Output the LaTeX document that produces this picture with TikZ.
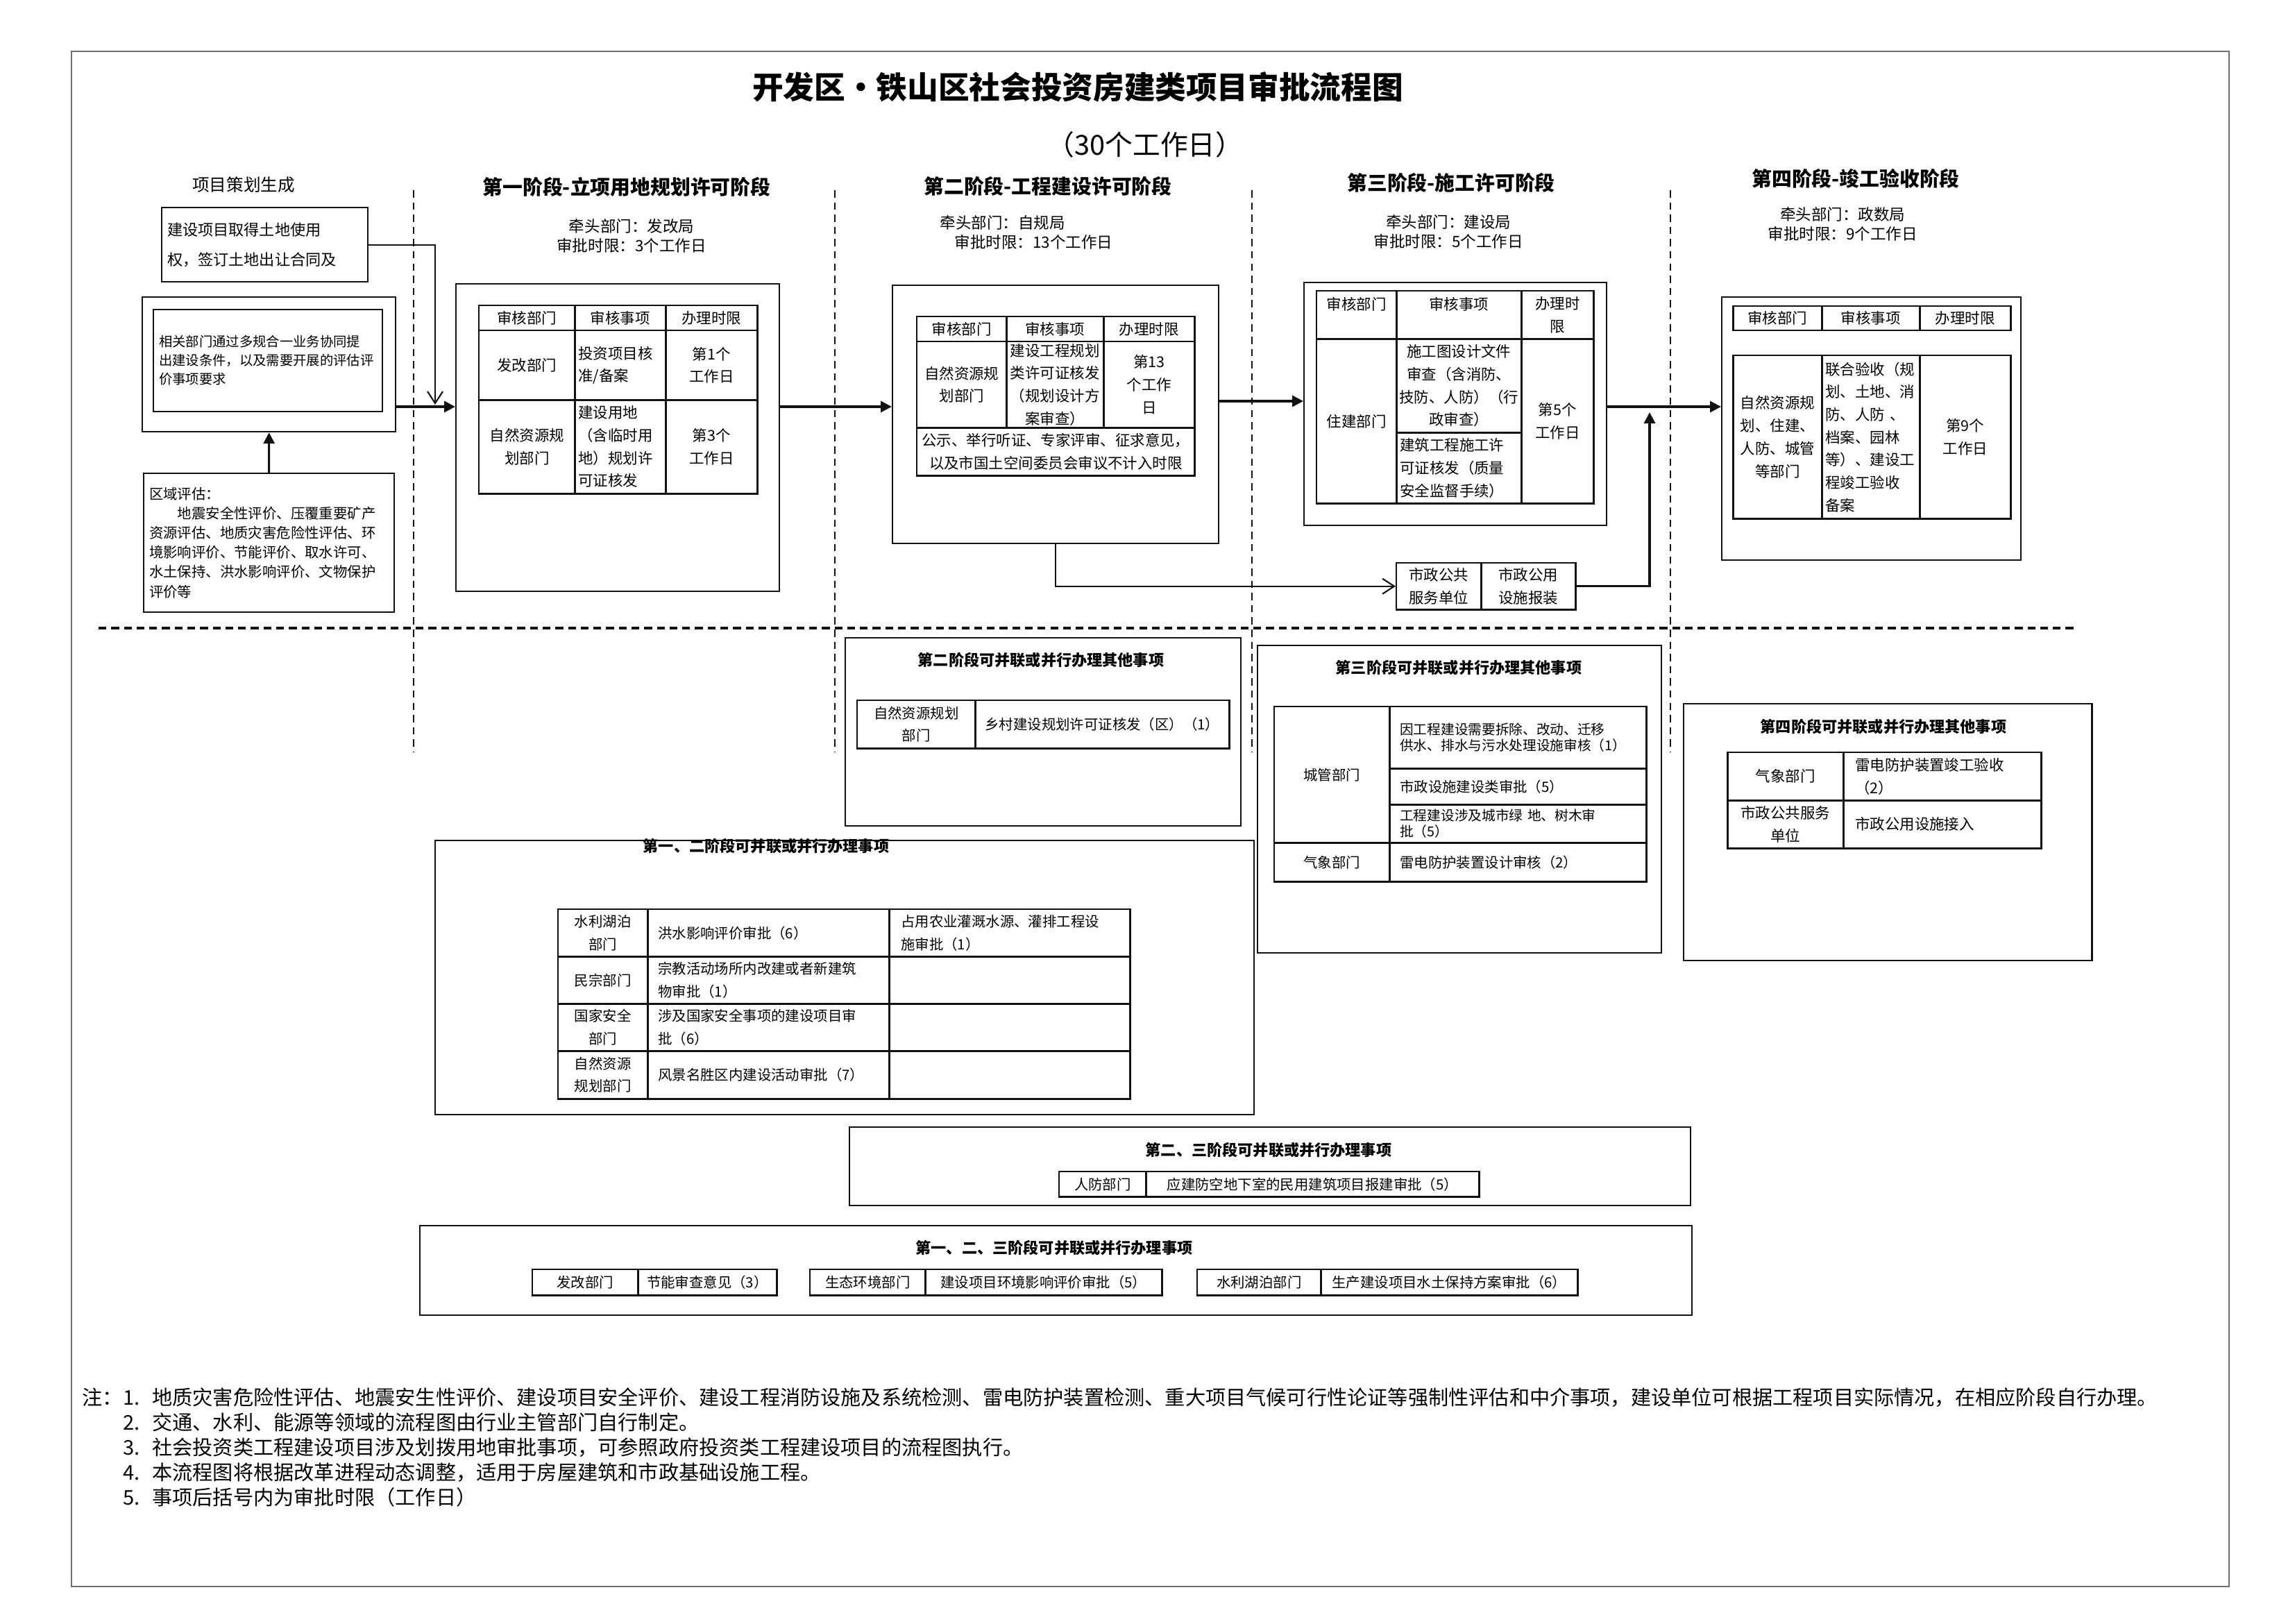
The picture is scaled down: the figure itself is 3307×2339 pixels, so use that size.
\documentclass[tikz,border=0pt]{standalone}
\usepackage{fontspec}
\setmainfont{Noto Sans CJK SC}
\usepackage{xcolor}
\definecolor{inkDark}{HTML}{111111}
\definecolor{frameGray}{HTML}{6E6E6E}
\usepackage{tikz}
\usetikzlibrary{positioning,calc,arrows.meta}
\tikzset{%
  plainBox/.style={%
    rectangle,
    draw=inkDark,
    line width=0.6pt,
    inner sep=0pt,
    anchor=north west
  },
  textBox/.style={%
    plainBox,
    align=left,
    inner xsep=0.08cm
  },
  cellBox/.style={%
    rectangle,
    draw=inkDark,
    line width=0.7pt,
    inner sep=0pt,
    anchor=north west,
    align=center,
    font=\fontsize{6.1pt}{9.3pt}\selectfont
  },
  leftCell/.style={%
    cellBox,
    align=left,
    inner xsep=0.05cm
  },
  parCell/.style={%
    cellBox,
    font=\fontsize{5.8pt}{9.3pt}\selectfont
  },
  parLeftCell/.style={%
    leftCell,
    inner xsep=0.15cm,
    font=\fontsize{5.8pt}{9.3pt}\selectfont
  },
  titleText/.style={font=\bfseries\fontsize{12.7pt}{15pt}\selectfont, inner sep=0pt},
  subTitleText/.style={font=\fontsize{11.3pt}{13pt}\selectfont, inner sep=0pt},
  stageTitle/.style={font=\bfseries\fontsize{8.2pt}{10pt}\selectfont, inner sep=0pt},
  leadText/.style={font=\fontsize{6.4pt}{7.9pt}\selectfont, align=center, inner sep=0pt},
  parTitle/.style={font=\bfseries\fontsize{6.3pt}{8pt}\selectfont, inner sep=0pt},
  noteText/.style={font=\fontsize{8.3pt}{10.2pt}\selectfont, inner sep=0pt, anchor=north west},
  arrowLine/.style={%
    -{Triangle[length=1.6mm,width=1.6mm]},
    line width=0.9pt,
    color=inkDark
  },
  openArrow/.style={%
    -{Straight Barb[length=1.7mm,width=2.2mm]},
    line width=0.6pt,
    color=inkDark
  },
  stageDivider/.style={dash pattern=on 3pt off 2pt, line width=0.5pt, color=inkDark},
  phaseDivider/.style={dash pattern=on 3.2pt off 2pt, line width=0.9pt, color=inkDark},
  frameLine/.style={line width=0.5pt, draw=frameGray}
}

\begin{document}
\begin{tikzpicture}[x=0.01cm, y=-0.01cm]
  \useasboundingbox (0,0) rectangle (3307,2339);
  \draw[frameLine] (103,74) rectangle (3212,2286);

  % titles
  \node[titleText] (mainTitle) at (1553,125) {开发区・铁山区社会投资房建类项目审批流程图};
  \node[subTitleText] (totalDays) at (1650,208) {（30个工作日）};
  \node[font=\fontsize{7pt}{9pt}\selectfont, inner sep=0pt] (prepTitle) at (351,266) {项目策划生成};
  \node[stageTitle] (stageOneTitle) at (903,269) {第一阶段-立项用地规划许可阶段};
  \node[stageTitle] (stageTwoTitle) at (1510,268) {第二阶段-工程建设许可阶段};
  \node[stageTitle] (stageThreeTitle) at (2091,263) {第三阶段-施工许可阶段};
  \node[stageTitle] (stageFourTitle) at (2674,257) {第四阶段-竣工验收阶段};

  \node[leadText] (stageOneLead) at (910,340) {牵头部门：发改局\\审批时限：3个工作日};
  \node[leadText, align=left, anchor=west] (stageTwoLead) at (1354,335) {牵头部门：自规局\\\hspace*{0.21cm}审批时限：13个工作日};
  \node[leadText] (stageThreeLead) at (2087,334) {牵头部门：建设局\\审批时限：5个工作日};
  \node[leadText] (stageFourLead) at (2655,323) {牵头部门：政数局\\审批时限：9个工作日};

  % dividers
  \foreach \xPos in {596,1203,1804,2407} {
    \draw[stageDivider] (\xPos,274) -- (\xPos,1083);
  }
  \draw[phaseDivider] (142,905) -- (2990,905);

  % project planning
  \node[textBox, text width=2.81cm, minimum height=1.07cm, font=\fontsize{6.3pt}{12.2pt}\selectfont] (landBox) at (232,298) {建设项目取得土地使用\\权，签订土地出让合同及};
  \node[plainBox, minimum width=3.65cm, minimum height=1.94cm] (condOuter) at (204,427) {};
  \node[textBox, text width=3.14cm, minimum height=1.47cm, font=\fontsize{5.5pt}{7.7pt}\selectfont] (condInner) at (220,445) {相关部门通过多规合一业务协同提\\出建设条件，以及需要开展的评估评\\价事项要求};
  \node[textBox, text width=3.45cm, minimum height=2.00cm, font=\fontsize{5.8pt}{8pt}\selectfont] (regionBox) at (206,681) {区域评估：\\\hspace*{2em}地震安全性评价、压覆重要矿产\\资源评估、地质灾害危险性评估、环\\境影响评价、节能评价、取水许可、\\水土保持、洪水影响评价、文物保护\\评价等};

  % stage one
  \node[plainBox, minimum width=4.66cm, minimum height=4.43cm] (stageOneBox) at (656,408) {};
  \node[cellBox, minimum width=1.38cm, minimum height=0.36cm] (s1HeadDept) at (689,439) {审核部门};
  \node[cellBox, minimum width=1.31cm, minimum height=0.36cm] (s1HeadItem) at (827,439) {审核事项};
  \node[cellBox, minimum width=1.32cm, minimum height=0.36cm] (s1HeadTime) at (958,439) {办理时限};
  \node[cellBox, minimum width=1.38cm, minimum height=1.00cm] (s1DeptA) at (689,475) {发改部门};
  \node[leftCell, text width=1.21cm, minimum height=1.00cm] (s1ItemA) at (827,475) {投资项目核\\准/备案};
  \node[cellBox, minimum width=1.32cm, minimum height=1.00cm] (s1TimeA) at (958,475) {第1个\\工作日};
  \node[cellBox, minimum width=1.38cm, minimum height=1.35cm] (s1DeptB) at (689,575) {自然资源规\\划部门};
  \node[leftCell, text width=1.21cm, minimum height=1.35cm] (s1ItemB) at (827,575) {建设用地\\（含临时用\\地）规划许\\可证核发};
  \node[cellBox, minimum width=1.32cm, minimum height=1.35cm] (s1TimeB) at (958,575) {第3个\\工作日};

  % stage two
  \node[plainBox, minimum width=4.70cm, minimum height=3.72cm] (stageTwoBox) at (1285,410) {};
  \node[cellBox, minimum width=1.29cm, minimum height=0.36cm] (s2HeadDept) at (1320,455) {审核部门};
  \node[cellBox, minimum width=1.40cm, minimum height=0.36cm] (s2HeadItem) at (1449,455) {审核事项};
  \node[cellBox, minimum width=1.31cm, minimum height=0.36cm] (s2HeadTime) at (1589,455) {办理时限};
  \node[cellBox, minimum width=1.29cm, minimum height=1.24cm] (s2Dept) at (1320,491) {自然资源规\\划部门};
  \node[cellBox, minimum width=1.40cm, minimum height=1.24cm] (s2Item) at (1449,491) {建设工程规划\\类许可证核发\\（规划设计方\\案审查）};
  \node[cellBox, minimum width=1.31cm, minimum height=1.24cm] (s2Time) at (1589,491) {第13\\个工作\\日};
  \node[cellBox, minimum width=4.00cm, minimum height=0.69cm] (s2Note) at (1320,615) {公示、举行听证、专家评审、征求意见，\\以及市国土空间委员会审议不计入时限};

  % stage three
  \node[plainBox, minimum width=4.36cm, minimum height=3.50cm] (stageThreeBox) at (1878,406) {};
  \node[cellBox, minimum width=1.15cm, minimum height=0.69cm] (s3HeadDept) at (1896,418) {审核部门\\\mbox{}};
  \node[cellBox, minimum width=1.80cm, minimum height=0.69cm] (s3HeadItem) at (2011,418) {审核事项\\\mbox{}};
  \node[cellBox, minimum width=1.04cm, minimum height=0.69cm] (s3HeadTime) at (2191,418) {办理时\\限};
  \node[cellBox, minimum width=1.15cm, minimum height=2.37cm] (s3Dept) at (1896,487) {住建部门};
  \node[cellBox, minimum width=1.80cm, minimum height=1.35cm] (s3ItemA) at (2011,487) {施工图设计文件\\审查（含消防、\\技防、人防）（行\\政审查）};
  \node[leftCell, text width=1.70cm, minimum height=1.02cm] (s3ItemB) at (2011,622) {建筑工程施工许\\可证核发（质量\\安全监督手续）};
  \node[cellBox, minimum width=1.04cm, minimum height=2.37cm] (s3Time) at (2191,487) {第5个\\工作日};

  % stage four
  \node[plainBox, minimum width=4.31cm, minimum height=3.79cm] (stageFourBox) at (2480,427) {};
  \node[cellBox, minimum width=1.28cm, minimum height=0.35cm] (s4HeadDept) at (2496,440) {审核部门};
  \node[cellBox, minimum width=1.41cm, minimum height=0.35cm] (s4HeadItem) at (2624,440) {审核事项};
  \node[cellBox, minimum width=1.31cm, minimum height=0.35cm] (s4HeadTime) at (2765,440) {办理时限};
  \node[cellBox, minimum width=1.28cm, minimum height=2.35cm] (s4Dept) at (2496,511) {自然资源规\\划、住建、\\人防、城管\\等部门};
  \node[leftCell, text width=1.31cm, minimum height=2.35cm] (s4Item) at (2624,511) {联合验收（规\\划、土地、消\\防、人防 、\\档案、园林\\等）、建设工\\程竣工验收\\备案};
  \node[cellBox, minimum width=1.31cm, minimum height=2.35cm] (s4Time) at (2765,511) {第9个\\工作日};

  % municipal utilities
  \node[cellBox, minimum width=1.22cm, minimum height=0.67cm] (muniA) at (2011,810) {市政公共\\服务单位};
  \node[cellBox, minimum width=1.36cm, minimum height=0.67cm] (muniB) at (2133,810) {市政公用\\设施报装};

  % connectors
  \coordinate (flowLine) at (0,586);
  \coordinate (flowLineB) at (0,578);
  \coordinate (landDrop) at (627,583);
  \coordinate (muniRise) at (2377,594);
  \draw[openArrow] (landBox.east) -| (landDrop);
  \draw[arrowLine] (regionBox.north) -- (condOuter.south);
  \draw[arrowLine] (condOuter.east |- flowLine) -- (stageOneBox.west |- flowLine);
  \draw[arrowLine] (stageOneBox.east |- flowLine) -- (stageTwoBox.west |- flowLine);
  \draw[arrowLine] (stageTwoBox.east |- flowLineB) -- (stageThreeBox.west |- flowLineB);
  \draw[arrowLine] (stageThreeBox.east |- flowLine) -- (stageFourBox.west |- flowLine);
  \draw[openArrow] (stageTwoBox.south) |- (muniA.west);
  \draw[arrowLine] (muniB.east) -| (muniRise);

  % stage two parallel
  \node[plainBox, minimum width=5.70cm, minimum height=2.71cm] (parTwoBox) at (1217,918) {};
  \node[parTitle] (parTwoTitle) at (1500,951) {第二阶段可并联或并行办理其他事项};
  \node[parCell, minimum width=1.70cm, minimum height=0.69cm] (p2Dept) at (1234,1008) {自然资源规划\\部门};
  \node[parCell, minimum width=3.66cm, minimum height=0.69cm] (p2Item) at (1404,1008) {乡村建设规划许可证核发（区）（1）};

  % stage three parallel
  \node[plainBox, minimum width=5.82cm, minimum height=4.43cm] (parThreeBox) at (1811,929) {};
  \node[parTitle] (parThreeTitle) at (2102,962) {第三阶段可并联或并行办理其他事项};
  \node[parCell, minimum width=1.66cm, minimum height=1.96cm] (p3DeptA) at (1835,1017) {城管部门};
  \node[parCell, minimum width=1.66cm, minimum height=0.56cm] (p3DeptB) at (1835,1213) {气象部门};
  \node[parLeftCell, text width=3.40cm, minimum height=0.89cm, font=\fontsize{5.6pt}{6.6pt}\selectfont] (p3ItemA) at (2001,1017) {因工程建设需要拆除、改动、迁移\\供水、排水与污水处理设施审核（1）};
  \node[parLeftCell, text width=3.40cm, minimum height=0.52cm] (p3ItemB) at (2001,1106) {市政设施建设类审批（5）};
  \node[parLeftCell, text width=3.40cm, minimum height=0.55cm, font=\fontsize{5.6pt}{6.6pt}\selectfont] (p3ItemC) at (2001,1158) {工程建设涉及城市绿 地、树木审\\批（5）};
  \node[parLeftCell, text width=3.40cm, minimum height=0.56cm] (p3ItemD) at (2001,1213) {雷电防护装置设计审核（2）};

  % stage four parallel
  \node[plainBox, minimum width=5.88cm, minimum height=3.70cm] (parFourBox) at (2425,1013) {};
  \node[parTitle] (parFourTitle) at (2714,1047) {第四阶段可并联或并行办理其他事项};
  \node[cellBox, minimum width=1.67cm, minimum height=0.69cm] (p4DeptA) at (2488,1083) {气象部门};
  \node[leftCell, inner xsep=0.17cm, text width=2.51cm, minimum height=0.69cm] (p4ItemA) at (2655,1083) {雷电防护装置竣工验收\\（2）};
  \node[cellBox, minimum width=1.67cm, minimum height=0.69cm] (p4DeptB) at (2488,1152) {市政公共服务\\单位};
  \node[leftCell, inner xsep=0.17cm, text width=2.51cm, minimum height=0.69cm] (p4ItemB) at (2655,1152) {市政公用设施接入};

  % stage one and two parallel
  \node[plainBox, minimum width=11.79cm, minimum height=3.95cm] (parOneTwoBox) at (626,1210) {};
  \node[parTitle] (parOneTwoTitle) at (1104,1219) {第一、二阶段可并联或并行办理事项};
  \node[parCell, minimum width=1.29cm, minimum height=0.68cm] (p12DeptA) at (803,1309) {水利湖泊\\部门};
  \node[parLeftCell, text width=3.18cm, minimum height=0.68cm] (p12ItemA) at (932,1309) {洪水影响评价审批（6）};
  \node[parLeftCell, inner xsep=0.17cm, text width=3.13cm, minimum height=0.68cm] (p12ExtraA) at (1280,1309) {占用农业灌溉水源、灌排工程设\\施审批（1）};
  \node[parCell, minimum width=1.29cm, minimum height=0.68cm] (p12DeptB) at (803,1377) {民宗部门};
  \node[parLeftCell, text width=3.18cm, minimum height=0.68cm] (p12ItemB) at (932,1377) {宗教活动场所内改建或者新建筑\\物审批（1）};
  \node[parCell, minimum width=3.47cm, minimum height=0.68cm] (p12ExtraB) at (1280,1377) {};
  \node[parCell, minimum width=1.29cm, minimum height=0.68cm] (p12DeptC) at (803,1445) {国家安全\\部门};
  \node[parLeftCell, text width=3.18cm, minimum height=0.68cm] (p12ItemC) at (932,1445) {涉及国家安全事项的建设项目审\\批（6）};
  \node[parCell, minimum width=3.47cm, minimum height=0.68cm] (p12ExtraC) at (1280,1445) {};
  \node[parCell, minimum width=1.29cm, minimum height=0.69cm] (p12DeptD) at (803,1513) {自然资源\\规划部门};
  \node[parLeftCell, text width=3.18cm, minimum height=0.69cm] (p12ItemD) at (932,1513) {风景名胜区内建设活动审批（7）};
  \node[parCell, minimum width=3.47cm, minimum height=0.69cm] (p12ExtraD) at (1280,1513) {};

  % stage two and three parallel
  \node[plainBox, minimum width=12.11cm, minimum height=1.13cm] (parTwoThreeBox) at (1223,1623) {};
  \node[parTitle] (parTwoThreeTitle) at (1828,1657) {第二、三阶段可并联或并行办理事项};
  \node[parCell, minimum width=1.25cm, minimum height=0.36cm] (p23Dept) at (1525,1687) {人防部门};
  \node[parCell, minimum width=4.80cm, minimum height=0.36cm] (p23Item) at (1650,1687) {应建防空地下室的民用建筑项目报建审批（5）};

  % all three stages parallel
  \node[plainBox, minimum width=18.32cm, minimum height=1.29cm] (parAllBox) at (604,1765) {};
  \node[parTitle] (parAllTitle) at (1519,1798) {第一、二、三阶段可并联或并行办理事项};
  \node[parCell, minimum width=1.52cm, minimum height=0.37cm] (pAllDeptA) at (766,1828) {发改部门};
  \node[parCell, minimum width=2.00cm, minimum height=0.37cm] (pAllItemA) at (918,1828) {节能审查意见（3）};
  \node[parCell, minimum width=1.66cm, minimum height=0.37cm] (pAllDeptB) at (1166,1828) {生态环境部门};
  \node[parCell, minimum width=3.41cm, minimum height=0.37cm] (pAllItemB) at (1332,1828) {建设项目环境影响评价审批（5）};
  \node[parCell, minimum width=1.78cm, minimum height=0.37cm] (pAllDeptC) at (1724,1828) {水利湖泊部门};
  \node[parCell, minimum width=3.70cm, minimum height=0.37cm] (pAllItemC) at (1902,1828) {生产建设项目水土保持方案审批（6）};

  % notes
  \node[noteText] (notes) at (118,1999) {%
    \begin{tabular}{@{}l@{}l@{}l@{}}
      注： & \makebox[1.45em][l]{1.} & 地质灾害危险性评估、地震安生性评价、建设项目安全评价、建设工程消防设施及系统检测、雷电防护装置检测、重大项目气候可行性论证等强制性评估和中介事项，建设单位可根据工程项目实际情况，在相应阶段自行办理。\\
           & \makebox[1.45em][l]{2.} & 交通、水利、能源等领域的流程图由行业主管部门自行制定。\\
           & \makebox[1.45em][l]{3.} & 社会投资类工程建设项目涉及划拨用地审批事项，可参照政府投资类工程建设项目的流程图执行。\\
           & \makebox[1.45em][l]{4.} & 本流程图将根据改革进程动态调整，适用于房屋建筑和市政基础设施工程。\\
           & \makebox[1.45em][l]{5.} & 事项后括号内为审批时限（工作日）
    \end{tabular}};
\end{tikzpicture}
\end{document}
